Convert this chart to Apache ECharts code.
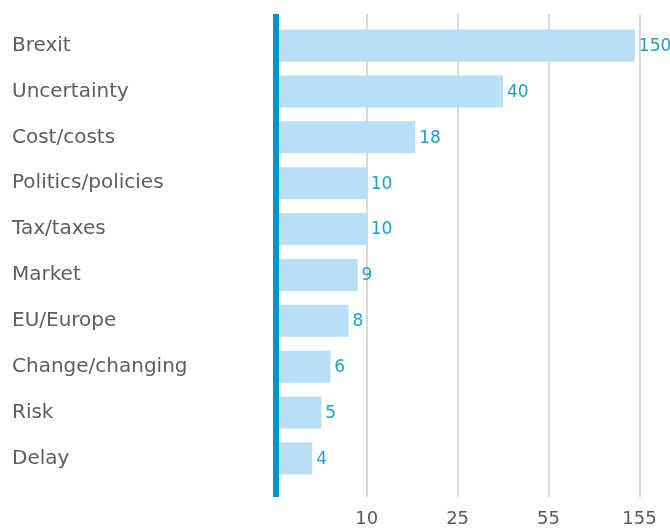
<!DOCTYPE html>
<html>
<head>
<meta charset="utf-8">
<script src="https://cdn.jsdelivr.net/npm/echarts@6/dist/echarts.min.js"></script>
<style>
  html, body { margin: 0; padding: 0; background: #fff; }
  #chart { width: 670px; height: 529px; }
</style>
</head>
<body>
<div id="chart"></div>
<script>
// Words mentioned, with the number of mentions
const categories = ['Brexit', 'Uncertainty', 'Cost/costs', 'Politics/policies', 'Tax/taxes',
  'Market', 'EU/Europe', 'Change/changing', 'Risk', 'Delay'];
const mentions = [150, 40, 18, 10, 10, 9, 8, 6, 5, 4];

// Axis break points: each segment between them gets equal width
const breakPoints = [0, 10, 25, 55, 155];
const tickLabels = ['', '10', '25', '55', '155'];

// Map a raw value onto the segmented scale (one unit per segment)
function toSegmented(v) {
  for (let i = 1; i < breakPoints.length; i++) {
    if (v <= breakPoints[i] || i === breakPoints.length - 1) {
      const a = breakPoints[i - 1], b = breakPoints[i];
      return (i - 1) + (v - a) / (b - a);
    }
  }
  return 0;
}

const LEFT = 275.8;
const WIDTH = 399.2;
const UNIT = 90.9;
const axisMax = WIDTH / UNIT;
const font = '"DejaVu Sans", sans-serif';

const chart = echarts.init(document.getElementById('chart'));
chart.setOption({
  animation: false,
  grid: [
    { left: LEFT, width: WIDTH, top: 14, bottom: 32, containLabel: false, outerBoundsMode: 'none' },
    { left: LEFT, width: WIDTH, top: 22.6, bottom: 47.6, containLabel: false, outerBoundsMode: 'none' }
  ],
  xAxis: [
    {
      gridIndex: 0, type: 'value', min: 0, max: axisMax, interval: 1,
      axisLine: { show: false }, axisTick: { show: false },
      splitLine: { show: true, lineStyle: { color: '#cccccc', width: 1.5 } },
      axisLabel: {
        margin: 13, fontSize: 18, color: '#5a5a5a', fontFamily: font,
        formatter: function (v) {
          const i = Math.round(v);
          return Math.abs(v - i) < 1e-6 && tickLabels[i] !== undefined ? tickLabels[i] : '';
        }
      }
    },
    { gridIndex: 1, type: 'value', min: 0, max: axisMax, show: false }
  ],
  yAxis: [
    {
      gridIndex: 0, type: 'value', z: 5,
      axisLine: { show: true, lineStyle: { color: '#0096c9', width: 6, cap: 'butt' } },
      axisTick: { show: false }, axisLabel: { show: false }, splitLine: { show: false }
    },
    {
      gridIndex: 1, type: 'category', data: categories, inverse: true,
      axisLine: { show: false }, axisTick: { show: false },
      axisLabel: {
        align: 'left', margin: LEFT - 12, fontSize: 20, color: '#5e5e5e',
        fontFamily: font
      }
    }
  ],
  series: [{
    type: 'bar',
    xAxisIndex: 1, yAxisIndex: 1,
    data: mentions.map(function (v) { return { value: toSegmented(v), raw: v }; }),
    barWidth: 32,
    itemStyle: { color: '#b7dff7' },
    label: {
      show: true, position: 'right', distance: 4, offset: [0, 1],
      fontSize: 17, color: '#1fa0cc', fontFamily: font,
      formatter: function (p) { return String(p.data.raw); }
    }
  }]
});
</script>
</body>
</html>
